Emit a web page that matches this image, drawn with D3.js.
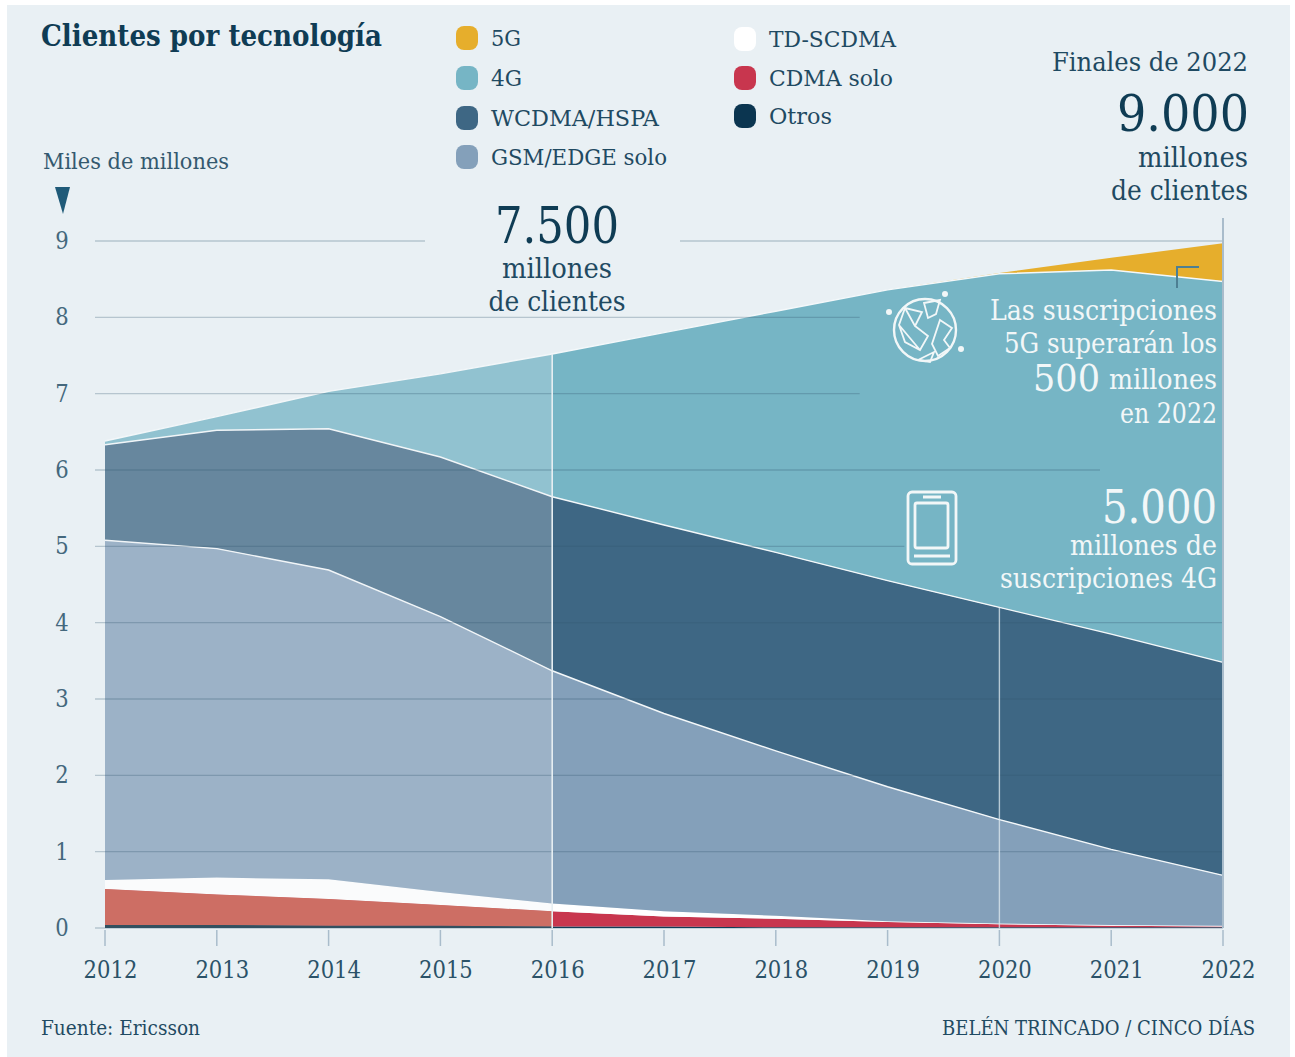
<!DOCTYPE html>
<html><head><meta charset="utf-8">
<script src="https://cdn.jsdelivr.net/npm/d3@7"></script>
<style>
html,body{margin:0;padding:0;background:#fff}
svg{display:block}
text{font-family:"DejaVu Serif Condensed","DejaVu Serif",serif;font-stretch:condensed;fill:#0f3c54}
</style></head><body>
<svg id="c" width="1295" height="1057"></svg>
<script>
const years=[2012,2013,2014,2015,2016,2017,2018,2019,2020,2021,2022];
const otros=[.04,.04,.03,.03,.02,.02,.01,.01,.01,.01,.01];
const cdma=[.47,.40,.35,.27,.20,.13,.11,.07,.04,.02,.01];
const td=[.12,.22,.26,.17,.10,.07,.04,.01,.01,.01,.01];
const gsm=[4.45,4.31,4.05,3.61,3.05,2.59,2.16,1.76,1.36,.99,.66];
const wcdma=[1.25,1.55,1.85,2.09,2.28,2.47,2.60,2.70,2.78,2.82,2.79];
const g4=[.05,.18,.49,1.09,1.87,2.52,3.16,3.81,4.37,4.77,4.99];
const g5=[0,0,0,0,0,0,0,0,.01,.16,.50];
const seriesKeys=["Otros","CDMA solo","TD-SCDMA","GSM/EDGE solo","WCDMA/HSPA","4G","5G"];
const seriesVals=[otros,cdma,td,gsm,wcdma,g4,g5];
const colors=["#0b3550","#c8364e","#ffffff","#84a0ba","#3e6784","#76b5c5","#e6ae2c"];
const yTicks=[0,1,2,3,4,5,6,7,8,9];
const gridEnds=[2022,2022,2022,2022,2022,2019.15,2020.9,2018.75,2018.75,2022];

const svg=d3.select("#c");
const x=d3.scaleLinear().domain([2012,2022]).range([105,1223]);
const y=d3.scaleLinear().domain([0,9]).range([928,241]);
const table=years.map((yr,i)=>{const o={year:yr};seriesKeys.forEach((k,j)=>o[k]=seriesVals[j][i]);return o;});
const stacked=d3.stack().keys(seriesKeys)(table);
const area=d3.area().x(d=>x(d.data.year)).y0(d=>y(d[0])).y1(d=>y(d[1]));
const topLine=d3.line().x(d=>x(d.data.year)).y(d=>y(d[1]));

svg.append("rect").attr("x",7).attr("y",5).attr("width",1283).attr("height",1052).attr("fill","#e9f0f4");

// areas
const plot=svg.append("g");
plot.selectAll("path.a").data(stacked).join("path").attr("class","a")
  .attr("d",area).attr("fill",(d,i)=>colors[i]);
// boundaries
plot.selectAll("path.b").data(stacked.filter(s=>["GSM/EDGE solo","WCDMA/HSPA","4G"].includes(s.key))).join("path").attr("class","b")
  .attr("d",topLine).attr("fill","none").attr("stroke","#f4f8fa").attr("stroke-width",1.4);

// lighter veil for 2012-2016
const topStack=stacked[stacked.length-1];
const veilArea=d3.area().x(d=>x(d.data.year)).y0(y(0)).y1(d=>y(d[1]));
plot.append("path").datum(topStack.filter(d=>d.data.year<=2016)).attr("d",veilArea)
  .attr("fill","#e9f0f4").attr("opacity",.24);
// the CDMA band turns salmon under the veil
plot.append("path").datum(stacked[1].filter(d=>d.data.year<=2016)).attr("d",area).attr("fill","#cd6e64");
plot.append("path").datum(stacked[0].filter(d=>d.data.year<=2016)).attr("d",area).attr("fill","#33505f");

// gridlines
const grid=svg.append("g");
yTicks.forEach((t,i)=>{
  const x0=95;
  if(t===9){
    grid.append("line").attr("x1",x0).attr("x2",425).attr("y1",y(t)).attr("y2",y(t));
    grid.append("line").attr("x1",680).attr("x2",x(2022)).attr("y1",y(t)).attr("y2",y(t));
  } else {
    grid.append("line").attr("x1",x0).attr("x2",x(gridEnds[i])).attr("y1",y(t)).attr("y2",y(t));
  }
});
grid.selectAll("line").attr("stroke","#33556e").attr("stroke-opacity",.28).attr("stroke-width",1.4);

// verticals
const idx16=years.indexOf(2016), idx20=years.indexOf(2020);
svg.append("line").attr("x1",x(2016)).attr("x2",x(2016)).attr("y1",y(topStack[idx16][1])).attr("y2",y(0)).attr("stroke","#e6eef2").attr("stroke-width",1.6);
svg.append("line").attr("x1",x(2020)).attr("x2",x(2020)).attr("y1",y(stacked[4][idx20][1])).attr("y2",y(0)).attr("stroke","#dfe9ef").attr("stroke-opacity",.75).attr("stroke-width",1.4);
svg.append("line").attr("x1",x(2022)).attr("x2",x(2022)).attr("y1",218).attr("y2",y(0)).attr("stroke","#a9bccb").attr("stroke-width",2);

// x ticks
years.forEach(yr=>{
  svg.append("line").attr("x1",x(yr)).attr("x2",x(yr)).attr("y1",y(0)+2).attr("y2",y(0)+18).attr("stroke","#a9bccb").attr("stroke-width",1.5);
});
svg.selectAll("text.xt").data(years).join("text").attr("class","xt")
  .attr("x",d=>x(d)+5.5).attr("y",978).attr("text-anchor","middle").attr("font-size",23.5).style("fill","#2b5268").text(d=>d);
svg.selectAll("text.yt").data(yTicks).join("text").attr("class","yt")
  .attr("x",62).attr("y",d=>y(d)+8).attr("text-anchor","middle").attr("font-size",23.5).style("fill","#44687d").text(d=>d);

function T(s,px,py,size,anchor,opt={}){
  const t=svg.append("text").attr("x",px).attr("y",py).attr("font-size",size).attr("text-anchor",anchor||"start").text(s);
  if(opt.fill)t.style("fill",opt.fill);
  if(opt.bold)t.attr("font-weight",700);
  if(opt.len)t.attr("textLength",opt.len).attr("lengthAdjust","spacingAndGlyphs");
  return t;
}
T("Clientes por tecnología",41,46,29,"start",{bold:true,len:341});
T("Miles de millones",43,169,23,"start",{fill:"#34596f",len:186});
svg.append("path").attr("d","M55 187H70L63 214Z").attr("fill","#1f5a78");

// legend
const legendItems=[["5G",6,456,38],["4G",5,456,78],["WCDMA/HSPA",4,456,118],["GSM/EDGE solo",3,456,157],
                   ["TD-SCDMA",2,734,39],["CDMA solo",1,734,78],["Otros",0,734,116]];
const legendLens={"5G":30,"4G":31,"WCDMA/HSPA":168,"GSM/EDGE solo":176,"TD-SCDMA":127,"CDMA solo":124,"Otros":63};
legendItems.forEach(([k,ci,lx,ly])=>{
  svg.append("rect").attr("x",lx).attr("y",ly-12).attr("width",22).attr("height",24).attr("rx",8).attr("fill",colors[ci]);
  T(k,lx+35,ly+8,23,"start",{fill:"#1f4a62",len:legendLens[k]});
});

// annotations
T("7.500",557,243,50,"middle",{len:124});
T("millones",557,278,27,"middle",{len:110,fill:"#1f4a62"});
T("de clientes",557,311,27,"middle",{len:137,fill:"#1f4a62"});
T("Finales de 2022",1248,71,26,"end",{len:196,fill:"#1f4a62"});
T("9.000",1249,131,50,"end",{len:132});
T("millones",1248,167,27,"end",{len:110,fill:"#1f4a62"});
T("de clientes",1248,200,27,"end",{len:137,fill:"#1f4a62"});

const W="#f2f7f8";
T("Las suscripciones",1217,320,27,"end",{fill:W,len:227});
T("5G superarán los",1217,353,27,"end",{fill:W,len:213});
T("500",1100,391,38,"end",{fill:W,len:67});
T("millones",1217,389,27,"end",{fill:W,len:108});
T("en 2022",1217,423,27,"end",{fill:W,len:97});
T("5.000",1217,523,46,"end",{fill:W,len:115});
T("millones de",1217,555,27,"end",{fill:W,len:147});
T("suscripciones 4G",1217,588,27,"end",{fill:W,len:217});

// leader mark
svg.append("path").attr("d","M1199 267H1177V288").attr("fill","none").attr("stroke","#4d7f93").attr("stroke-width",2);

// globe icon
const gi=svg.append("g").attr("fill","none").attr("stroke",W).attr("stroke-width",2.4);
gi.append("circle").attr("cx",925).attr("cy",330).attr("r",31);
gi.append("path").attr("stroke-width",1.8).attr("d","M905 308L922 312L915 326L928 336L920 350L905 342L899 325ZM905 308L915 326M899 325L920 350M924 303L940 300L936 314L928 318ZM940 320L952 328L944 340L950 348L938 356L932 344ZM918 360L934 352L930 362Z");
svg.append("g").attr("fill",W).selectAll("circle").data([[889,312],[945,294],[961,349]]).join("circle").attr("cx",d=>d[0]).attr("cy",d=>d[1]).attr("r",3);

// phone icon
const pi=svg.append("g").attr("fill","none").attr("stroke",W).attr("stroke-width",2.8);
pi.append("rect").attr("x",908).attr("y",492).attr("width",48).attr("height",72).attr("rx",4);
pi.append("rect").attr("x",915).attr("y",503).attr("width",33).attr("height",45).attr("rx",2);
pi.append("path").attr("d","M923 497H941M914 556H950");

// footer
T("Fuente: Ericsson",41,1035,20,"start",{len:159,fill:"#1f4a62"});
T("BELÉN TRINCADO / CINCO DÍAS",1255,1035,20,"end",{len:313,fill:"#1f4a62"});
</script>
</body></html>
